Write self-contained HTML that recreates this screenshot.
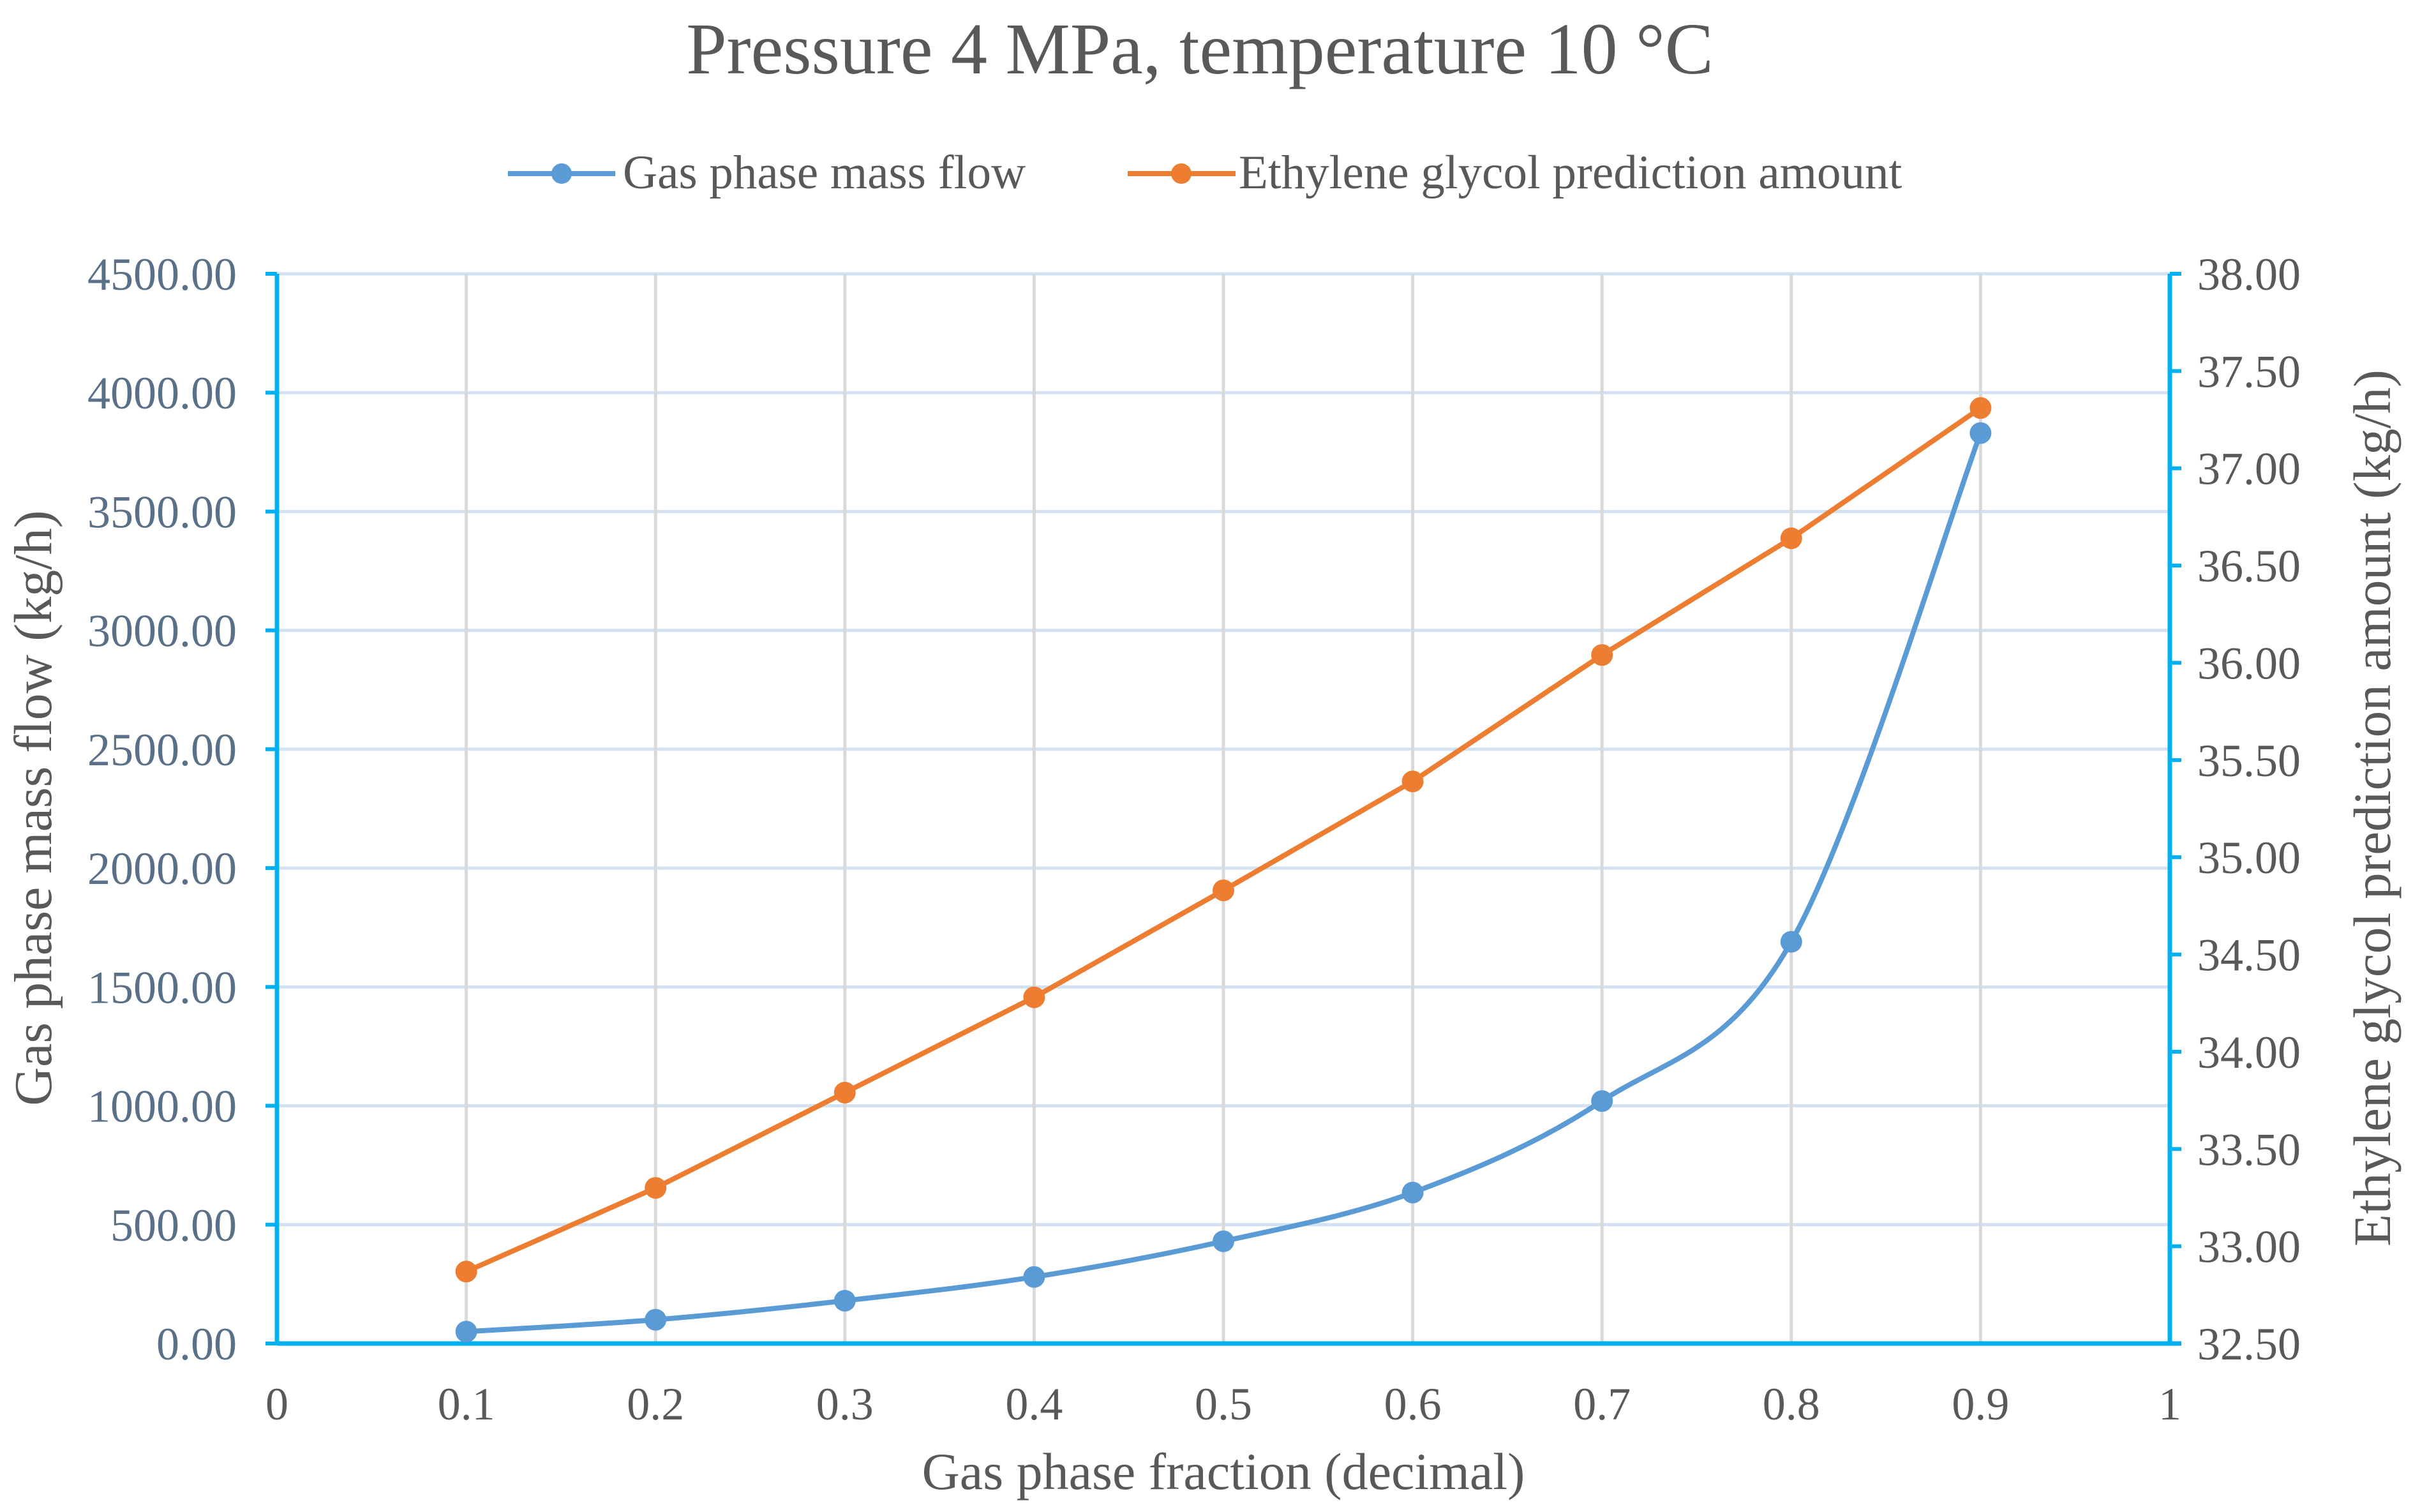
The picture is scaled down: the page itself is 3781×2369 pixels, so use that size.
<!DOCTYPE html>
<html><head><meta charset="utf-8"><style>
html,body{margin:0;padding:0;background:#fff;}
svg{display:block;font-family:"Liberation Serif",serif;}
</style></head><body>
<svg id="chart" width="3781" height="2369" viewBox="0 0 3781 2369">
<text x="1880" y="115" text-anchor="middle" font-size="114" fill="#595959">Pressure 4 MPa, temperature 10 °C</text>
<g>
<g>
<line x1="796" y1="272" x2="964" y2="272" stroke="#5b9bd5" stroke-width="8"/>
<circle cx="880" cy="272" r="16" fill="#5b9bd5"/>
<text x="976" y="295" font-size="75" fill="#595959">Gas phase mass flow</text>
</g>
<g>
<line x1="1767" y1="272" x2="1936" y2="272" stroke="#ed7d31" stroke-width="8"/>
<circle cx="1851" cy="272" r="16" fill="#ed7d31"/>
<text x="1941" y="295" font-size="75" fill="#595959">Ethylene glycol prediction amount</text>
</g>
</g>
<g id="grid"></g>
<g id="axes"></g>
<g id="series"></g>
<text x="1917" y="2333" text-anchor="middle" font-size="82" fill="#595959">Gas phase fraction (decimal)</text>
<text transform="translate(80,1266) rotate(-90)" text-anchor="middle" font-size="84" fill="#595959">Gas phase mass flow (kg/h)</text>
<text transform="translate(3745,1266) rotate(-90)" text-anchor="middle" font-size="83" fill="#595959">Ethylene glycol prediction amount (kg/h)</text>
</svg>
<script>
const xCats = [0.1,0.2,0.3,0.4,0.5,0.6,0.7,0.8,0.9];
const gasFlow = [50,100,180,280,430,635,1020,1690,3830];
const glycol = [32.87,33.30,33.79,34.28,34.83,35.39,36.04,36.64,37.31];
const xTicks = [0,0.1,0.2,0.3,0.4,0.5,0.6,0.7,0.8,0.9,1];
const xTickLabels = ["0","0.1","0.2","0.3","0.4","0.5","0.6","0.7","0.8","0.9","1"];
const leftTicks = [0,500,1000,1500,2000,2500,3000,3500,4000,4500];
const rightTicks = [32.5,33,33.5,34,34.5,35,35.5,36,36.5,37,37.5,38];

const L=434,R=3400,T=429,B=2105;
const NS="http://www.w3.org/2000/svg";
const xS=v=>L+(v-0)/(1-0)*(R-L);
const yL=v=>B-(v-0)/(4500-0)*(B-T);
const yR=v=>B-(v-32.5)/(38-32.5)*(B-T);
function mk(tag,attrs,parent){const e=document.createElementNS(NS,tag);for(const k in attrs)e.setAttribute(k,attrs[k]);parent.appendChild(e);return e;}
const grid=document.getElementById('grid'),axes=document.getElementById('axes'),series=document.getElementById('series');

leftTicks.forEach(v=>{
  const y=yL(v);
  if(v>0){const g=mk('line',{x1:L,x2:R,y1:y,y2:y,stroke:'#d2e2f2','stroke-width':5},grid);
  
  }
  mk('line',{x1:L-18,x2:L,y1:y,y2:y,stroke:'#00b0f0','stroke-width':6},axes);
  const t=mk('text',{x:371,y:y+25,'text-anchor':'end','font-size':72,fill:'#5a6f88'},axes);
  t.textContent=v.toFixed(2);
  
  
});
rightTicks.forEach(v=>{
  const y=yR(v);
  mk('line',{x1:R,x2:R+18,y1:y,y2:y,stroke:'#00b0f0','stroke-width':6},axes);
  const t=mk('text',{x:3443,y:y+25,'font-size':72,fill:'#595959'},axes);
  t.textContent=v.toFixed(2);
  
  
});
xTicks.forEach((v,i)=>{
  const x=xS(v);
  if(v>0&&v<1){const g=mk('line',{x1:x,x2:x,y1:T,y2:B,stroke:'#d9d9d9','stroke-width':5},grid);
  
  }
  const t=mk('text',{x:x,y:2224,'text-anchor':'middle','font-size':72,fill:'#595959'},axes);
  t.textContent=xTickLabels[i];
  
  
});
mk('line',{x1:L,x2:L,y1:T,y2:B,stroke:'#00b0f0','stroke-width':7},axes);
mk('line',{x1:R,x2:R,y1:T,y2:B,stroke:'#00b0f0','stroke-width':7},axes);
mk('line',{x1:L,x2:R+18,y1:B,y2:B,stroke:'#00b0f0','stroke-width':7},axes);

const bp=xCats.map((x,i)=>[xS(x),yL(gasFlow[i])]);
let d=`M${bp[0][0]},${bp[0][1]}`;
for(let i=0;i<bp.length-1;i++){
  const p0=bp[Math.max(0,i-1)],p1=bp[i],p2=bp[i+1],p3=bp[Math.min(bp.length-1,i+2)];
  const t=1/6;
  d+=` C${p1[0]+(p2[0]-p0[0])*t},${p1[1]+(p2[1]-p0[1])*t} ${p2[0]-(p3[0]-p1[0])*t},${p2[1]-(p3[1]-p1[1])*t} ${p2[0]},${p2[1]}`;
}
const bl=mk('path',{d:d,fill:'none',stroke:'#5b9bd5','stroke-width':8,'stroke-linejoin':'round'},series);


const op=xCats.map((x,i)=>[xS(x),yR(glycol[i])]);
const ol=mk('polyline',{points:op.map(p=>p.join(',')).join(' '),fill:'none',stroke:'#ed7d31','stroke-width':8,'stroke-linejoin':'round'},series);


bp.forEach(p=>{const c=mk('circle',{cx:p[0],cy:p[1],r:17,fill:'#5b9bd5'},series);

});
op.forEach(p=>{const c=mk('circle',{cx:p[0],cy:p[1],r:17,fill:'#ed7d31'},series);

});
</script>
</body></html>
